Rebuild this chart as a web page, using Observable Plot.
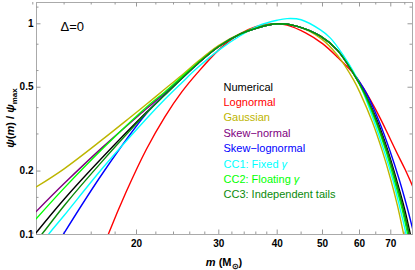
<!DOCTYPE html>
<html><head><meta charset="utf-8">
<script src="https://cdn.jsdelivr.net/npm/d3@7"></script>
<script src="https://cdn.jsdelivr.net/npm/@observablehq/plot@0.6"></script>
<style>body{margin:0;background:#fff;}</style>
</head><body><div id="chart"></div>
<script>
const seriesNames = ["Numerical","Lognormal","Gaussian","Skew\u2212normal","Skew\u2212lognormal","CC1: Fixed \u03b3","CC2: Floating \u03b3","CC3: Independent tails"];
const seriesColors = ["#000000","#ff0000","#bdb500","#800080","#0000ff","#00ffff","#00ff00","#0a8a0a"];

const numericalM   = [12.2,14,17,21,23,25,27,30,33.4,36.5,40,44,49.5,53.8,58.3,61.7,65.5,69,72.1,74.8,77.1,78.5];
const numericalPsi = [0.102,0.147,0.235,0.38,0.46,0.55,0.645,0.78,0.895,0.96,1.0,0.975,0.873,0.75,0.579,0.465,0.347,0.25,0.18,0.134,0.1,0.082];

const lognormalM   = [16,17.4,19,21,23,25,27,30,33,36,39.5,42,46,50,54,58.3,61,63.3,66.5,69,72.2,75,77.9];
const lognormalPsi = [0.061,0.1,0.159,0.254,0.362,0.475,0.585,0.752,0.885,0.968,1.0,0.985,0.905,0.805,0.69,0.58,0.5,0.435,0.355,0.3,0.243,0.205,0.17];

const gaussianM   = [12.2,14,17,19.4,21,23,25,27,30,33.4,36.5,40,44,49.5,53.8,58.3,60.3,63.9,67.1,70,72.4,74.6,76];
const gaussianPsi = [0.168,0.205,0.285,0.36,0.415,0.49,0.57,0.66,0.79,0.9,0.968,1.0,0.975,0.855,0.71,0.54,0.465,0.343,0.25,0.182,0.136,0.1,0.082];

const skewNormalM   = [12.2,14,17,21,23,25,27,30,33.4,36.5,40,44,49.5,53.8,58.3,61.6,65.2,68.7,71.7,74.3,76.5,78];
const skewNormalPsi = [0.1286,0.1745,0.262,0.395,0.47,0.555,0.645,0.78,0.895,0.96,1.0,0.975,0.873,0.748,0.578,0.466,0.347,0.25,0.18,0.134,0.1,0.081];

const skewLognormalM   = [12.2,13.94,17,21,23,25,27,30,33.4,36.5,40,44,49.5,53.8,58.3,62,66,69.7,73.1,75.9,78.5];
const skewLognormalPsi = [0.061,0.1,0.198,0.375,0.462,0.55,0.645,0.78,0.895,0.96,1.0,0.975,0.873,0.75,0.582,0.47,0.347,0.25,0.18,0.134,0.1];

const cc1M   = [12.2,12.96,14,17,21,23,25,27,30,33.4,36.5,40,42,45,49.5,52,55.5,58.3,60.8,64.4,67.7,70.8,73.2,75.5,77];
const cc1Psi = [0.083,0.1,0.123,0.209,0.354,0.438,0.525,0.618,0.75,0.88,0.98,1.04,1.058,1.045,0.935,0.855,0.705,0.59,0.485,0.347,0.25,0.18,0.134,0.1,0.08];

const cc2M   = [12.2,14,17,21,23,25,27,30,33.4,36.5,40,44,49.5,53.8,58.3,61.3,64.9,68.3,71.3,73.9,76.1,77.5];
const cc2Psi = [0.1187,0.166,0.258,0.402,0.475,0.56,0.65,0.78,0.895,0.96,1.0,0.975,0.873,0.75,0.579,0.47,0.347,0.25,0.18,0.134,0.1,0.083];

const cc3M   = [12.2,12.53,14,17,21,23,25,27,30,33.4,36.5,40,44,49.5,53.8,58.3,61.6,65.2,68.7,71.8,74.4,76.7,78];
const cc3Psi = [0.094,0.1,0.137,0.226,0.377,0.46,0.55,0.645,0.78,0.895,0.96,1.0,0.975,0.873,0.75,0.579,0.467,0.347,0.25,0.18,0.134,0.1,0.084];

const xTicks = [20,30,40,50,60,70];
const xMinorTicks = [12,14,16,18,22,24,26,28,32,34,36,38,45,55,65,75];
const yTicks = [0.1,0.2,0.5,1];
const yMinorTicks = [0.15,0.3,0.4,0.6,0.8,1.2];

const seriesM = [numericalM,lognormalM,gaussianM,skewNormalM,skewLognormalM,cc1M,cc2M,cc3M];
const seriesPsi = [numericalPsi,lognormalPsi,gaussianPsi,skewNormalPsi,skewLognormalPsi,cc1Psi,cc2Psi,cc3Psi];

const rows = [];
seriesNames.forEach((name, i) => {
  seriesM[i].forEach((m, j) => rows.push({series: name, m, psi: seriesPsi[i][j]}));
});

const W = 415, H = 270, ML = 36, MR = 3, MT = 2, MB = 36;
const FW = W - ML - MR, FH = H - MT - MB;
const tickColor = "#999";

const plot = Plot.plot({
  width: W, height: H,
  marginLeft: ML, marginRight: MR, marginTop: MT, marginBottom: MB,
  style: {fontFamily: "'Liberation Sans', Arial, sans-serif", fontSize: "10px", fontWeight: "bold", background: "#fff"},
  x: {type: "log", domain: [12.22, 77.9], ticks: xTicks, tickFormat: d => String(d), tickSize: 0, tickPadding: 5, label: null},
  y: {type: "log", domain: [0.1, 1.262], ticks: yTicks, tickFormat: d => String(d), tickSize: 0, tickPadding: 3, label: null},
  color: {domain: seriesNames, range: seriesColors},
  marks: [
    Plot.frame({stroke: "#aaa"}),
    Plot.tickX(xTicks, {x: d => d, insetTop: FH - 4.5, stroke: tickColor}),
    Plot.tickX(xMinorTicks, {x: d => d, insetTop: FH - 2.5, stroke: tickColor}),
    Plot.tickX(xTicks, {x: d => d, insetBottom: FH - 4.5, stroke: tickColor}),
    Plot.tickX(xMinorTicks, {x: d => d, insetBottom: FH - 2.5, stroke: tickColor}),
    Plot.tickY(yTicks, {y: d => d, insetRight: FW - 4.5, stroke: tickColor}),
    Plot.tickY(yMinorTicks, {y: d => d, insetRight: FW - 2.5, stroke: tickColor}),
    Plot.tickY(yTicks, {y: d => d, insetLeft: FW - 4.5, stroke: tickColor}),
    Plot.tickY(yMinorTicks, {y: d => d, insetLeft: FW - 2.5, stroke: tickColor}),
    Plot.line(rows, {x: "m", y: "psi", z: "series", stroke: "series", strokeWidth: 1.4, curve: "catmull-rom", clip: true}),
    Plot.text(["\u0394=0"], {frameAnchor: "top-left", text: d => d, dx: 24, dy: 28, lineAnchor: "bottom", textAnchor: "start", fontSize: 13, fontWeight: "normal", fill: "#000"}),
    Plot.text(seriesNames, {frameAnchor: "top-left", text: d => d, dx: 187, dy: 0, lineAnchor: "bottom", textAnchor: "start", fontSize: 11, fontWeight: "normal", fill: d => seriesColors[seriesNames.indexOf(d)]})
  ]
});

document.getElementById("chart").appendChild(plot);
const svg = d3.select(plot);

svg.selectAll("text").filter(function(){ return seriesNames.includes(this.textContent); })
  .each(function(){
    const name = this.textContent;
    const i = seriesNames.indexOf(name);
    const t = d3.select(this).attr("y", 88 + i * 15.4);
    if (name.endsWith("\u03b3")) {
      t.text(null);
      t.append("tspan").text(name.slice(0, -1));
      t.append("tspan").attr("font-style", "italic").text("\u03b3");
    }
  });

const lab = svg.append("g").attr("font-family", "'Liberation Sans', Arial, sans-serif").attr("font-weight", "bold").attr("font-size", 11).attr("fill", "#000");
const xl = lab.append("text").attr("x", ML + FW / 2).attr("y", 266).attr("text-anchor", "middle");
xl.append("tspan").attr("font-style", "italic").text("m");
xl.append("tspan").text(" (M");
xl.append("tspan").attr("font-size", 8).attr("dy", 2.5).text("\u2299");
xl.append("tspan").attr("dy", -2.5).text(")");

const yl = lab.append("text").attr("transform", `translate(14,${MT + FH / 2}) rotate(-90)`).attr("text-anchor", "middle");
yl.append("tspan").attr("font-style", "italic").text("\u03c8");
yl.append("tspan").text("(");
yl.append("tspan").attr("font-style", "italic").text("m");
yl.append("tspan").text(") / ");
yl.append("tspan").attr("font-style", "italic").text("\u03c8");
yl.append("tspan").attr("font-size", 8).attr("dy", 2.5).text("max");
</script>
</body></html>
